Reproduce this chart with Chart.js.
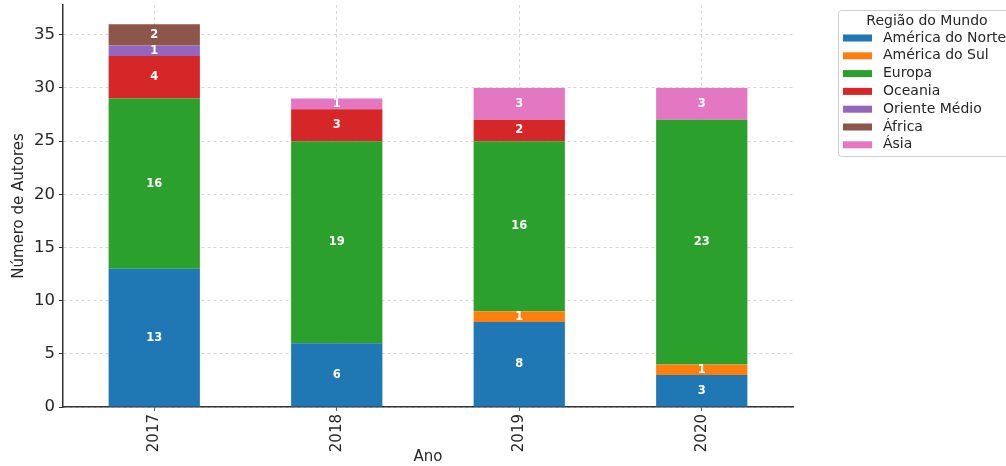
<!DOCTYPE html>
<html>
<head>
<meta charset="utf-8">
<script src="https://cdn.jsdelivr.net/npm/chart.js@4/dist/chart.umd.min.js"></script>
<style>
  html, body { margin: 0; padding: 0; background: #fff; overflow: hidden; }
  #wrap { position: absolute; left: 0; top: 0; width: 1060px; height: 466px; }
</style>
</head>
<body>
<div id="wrap"><canvas id="myChart"></canvas></div>
<script>
// anos e autores por região
const years = ['2017', '2018', '2019', '2020'];
const regions = ['América do Norte', 'América do Sul', 'Europa', 'Oceania', 'Oriente Médio', 'África', 'Ásia'];
const americaNorte = [13, 6, 8, 3];
const americaSul = [0, 0, 1, 1];
const europa = [16, 19, 16, 23];
const oceania = [4, 3, 2, 0];
const orienteMedio = [1, 0, 0, 0];
const africa = [2, 0, 0, 0];
const asia = [0, 1, 3, 3];
const yTicks = [0, 5, 10, 15, 20, 25, 30, 35];

const colors = ['#1f77b4', '#ff7f0e', '#2ca02c', '#d62728', '#9467bd', '#8c564b', '#e377c2'];
const series = [americaNorte, americaSul, europa, oceania, orienteMedio, africa, asia];

Chart.defaults.font.family = '"DejaVu Sans", sans-serif';
Chart.defaults.color = '#262626';

// numbers in the middle of each piece of the stack
const valueLabels = {
  id: 'valueLabels',
  afterDatasetsDraw(chart) {
    const ctx = chart.ctx;
    ctx.save();
    ctx.font = 'bold 11.5px "DejaVu Sans"';
    ctx.fillStyle = '#ffffff';
    ctx.textAlign = 'center';
    ctx.textBaseline = 'middle';
    chart.data.datasets.forEach((ds, i) => {
      chart.getDatasetMeta(i).data.forEach((bar, j) => {
        const v = ds.data[j];
        if (!v) return;
        const p = bar.getProps(['x', 'y', 'base'], true);
        ctx.fillText(String(v), p.x, (p.y + p.base) / 2);
      });
    });
    ctx.restore();
  }
};

// legend box outside the plot, on the right
const legendBox = {
  id: 'legendBox',
  afterDraw(chart) {
    const ctx = chart.ctx;
    const left = 838, top = 10, w = 200, h = 146;
    ctx.save();
    ctx.fillStyle = 'rgba(255,255,255,0.8)';
    ctx.strokeStyle = '#d0d0d0';
    ctx.lineWidth = 1;
    ctx.beginPath();
    ctx.roundRect(left + 0.5, top + 0.5, w, h, 3);
    ctx.fill();
    ctx.stroke();
    ctx.fillStyle = '#262626';
    ctx.font = '14px "DejaVu Sans"';
    ctx.textBaseline = 'middle';
    ctx.textAlign = 'center';
    ctx.fillText('Região do Mundo', 927, 21);
    ctx.textAlign = 'left';
    chart.data.datasets.forEach((ds, i) => {
      const yc = 38 + i * 17.8;
      ctx.fillStyle = ds.backgroundColor;
      ctx.fillRect(843, yc - 3.5, 29, 7);
      ctx.fillStyle = '#262626';
      ctx.fillText(ds.label, 883, yc);
    });
    ctx.restore();
  }
};

const datasets = regions.map((r, i) => ({
  label: r,
  data: series[i],
  backgroundColor: colors[i],
  borderWidth: 0,
  barPercentage: 0.5,
  categoryPercentage: 1.0
}));

const gridStyle = {
  color: 'rgba(175,175,175,0.5)',
  lineWidth: 1,
  tickColor: '#333333',
  tickLength: 4,
  tickWidth: 1,
  tickBorderDash: [1, 0]
};

new Chart(document.getElementById('myChart'), {
  type: 'bar',
  data: { labels: years, datasets: datasets },
  plugins: [valueLabels, legendBox],
  options: {
    responsive: true,
    maintainAspectRatio: false,
    animation: false,
    layout: { padding: { left: 0, right: 267, top: 5, bottom: 0 } },
    plugins: {
      legend: { display: false },
      tooltip: { enabled: false }
    },
    scales: {
      x: {
        stacked: true,
        z: 1,
        grid: Object.assign({ offset: false }, gridStyle),
        border: { color: '#333333', width: 1.5, dash: [3, 3] },
        ticks: { minRotation: 90, maxRotation: 90, padding: 3, font: { size: 15 } },
        title: { display: true, text: 'Ano', font: { size: 15 }, padding: { top: 4, bottom: 0 } },
        afterFit(scale) { scale.height = 59; scale.paddingLeft = 0; scale.paddingRight = 0; }
      },
      y: {
        stacked: true,
        z: 1,
        min: 0,
        max: 37.8,
        grid: gridStyle,
        border: { color: '#333333', width: 1.5, dash: [3, 3] },
        afterBuildTicks(scale) { scale.ticks = yTicks.map(v => ({ value: v })); },
        ticks: { padding: 4, font: { size: 16.5 } },
        title: { display: true, text: 'Número de Autores', font: { size: 15 }, padding: { top: 10, bottom: 0 } },
        afterFit(scale) { scale.width = 63; scale.paddingTop = 0; scale.paddingBottom = 0; }
      }
    }
  }
});
</script>
</body>
</html>
